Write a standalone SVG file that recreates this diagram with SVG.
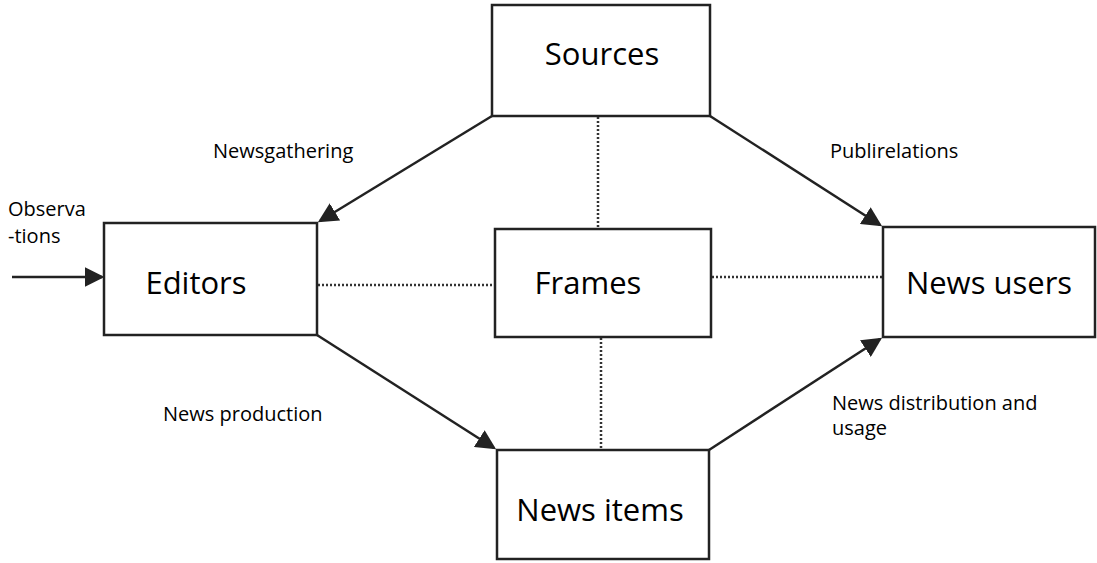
<svg xmlns="http://www.w3.org/2000/svg" width="1097" height="563" viewBox="0 0 1097 563">
<style>
.box{fill:#fff;stroke:#222;stroke-width:2.5}
.big{font-family:"Open Sans","Noto Sans",sans-serif;font-size:31px;fill:#000;text-anchor:middle}
.lbl{font-family:"Open Sans","Noto Sans",sans-serif;font-size:20px;fill:#000}
.arr{stroke:#222;stroke-width:2.5;fill:none;marker-end:url(#ah)}
.dot{stroke:#333;stroke-width:2.5;stroke-dasharray:2 2;fill:none}
</style>
<defs>
<marker id="ah" markerWidth="8" markerHeight="8" refX="7" refY="4" orient="auto" markerUnits="strokeWidth">
<path d="M0,0 L8,4 L0,8 Z" fill="#222"/>
</marker>
</defs>
<g id="connectors">
<line class="dot" x1="598" y1="117" x2="598" y2="228"/>
<line class="dot" x1="318" y1="285" x2="494" y2="285"/>
<line class="dot" x1="712" y1="277" x2="882" y2="277"/>
<line class="dot" x1="601" y1="338" x2="601" y2="449"/>
<line class="arr" x1="492" y1="116" x2="320" y2="221"/>
<line class="arr" x1="710" y1="116" x2="880" y2="225"/>
<line class="arr" x1="317" y1="335" x2="494" y2="448"/>
<line class="arr" x1="709" y1="450" x2="880" y2="339"/>
<line class="arr" x1="12" y1="277" x2="102" y2="277"/>
</g>
<g id="sources"><rect class="box" x="492" y="5" width="218" height="111"/><text class="big" x="602" y="65">Sources</text></g>
<g id="editors"><rect class="box" x="104" y="223" width="213" height="112"/><text class="big" x="196" y="294">Editors</text></g>
<g id="frames"><rect class="box" x="495" y="229" width="216" height="108"/><text class="big" x="588" y="294">Frames</text></g>
<g id="news-users"><rect class="box" x="883" y="227" width="212" height="110"/><text class="big" x="989" y="294">News users</text></g>
<g id="news-items"><rect class="box" x="497" y="450" width="212" height="109"/><text class="big" x="600" y="521">News items</text></g>
<g id="labels">
<text class="lbl" x="213" y="158">Newsgathering</text>
<text class="lbl" x="830" y="158">Publirelations</text>
<text class="lbl" x="163" y="421">News production</text>
<text class="lbl" x="832" y="410">News distribution and</text>
<text class="lbl" x="832" y="435">usage</text>
<text class="lbl" x="8" y="216">Observa</text>
<text class="lbl" x="8" y="243">-tions</text>
</g>
</svg>
